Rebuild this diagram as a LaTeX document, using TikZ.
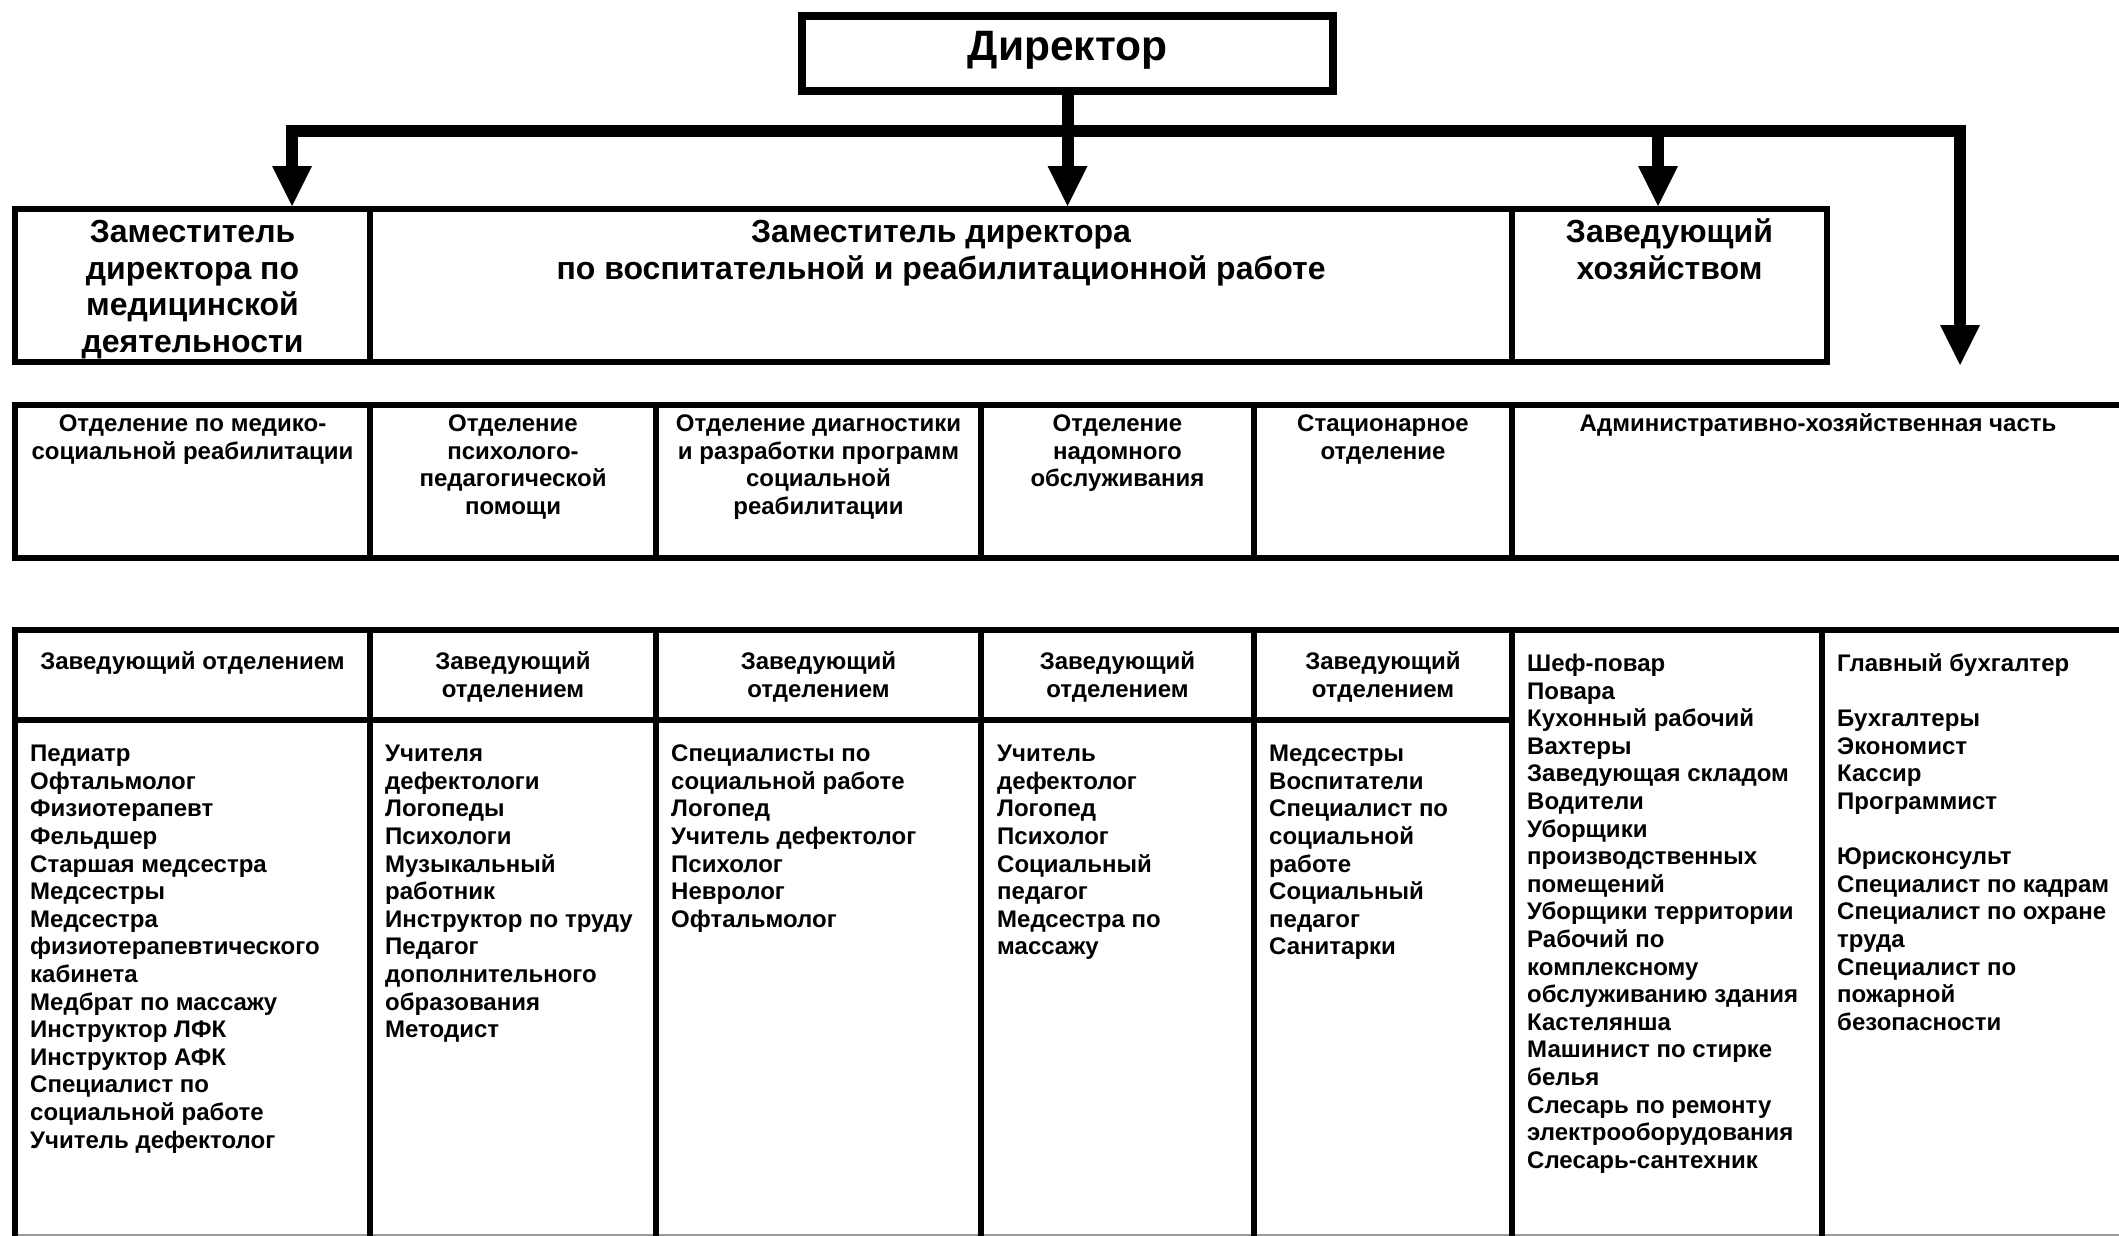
\documentclass[tikz,border=0pt]{standalone}
\usepackage{fontspec}
\setmainfont{Liberation Sans}
\usetikzlibrary{arrows.meta}
\newcommand\tstrut{\rule{0pt}{0.8em}}
\tikzset{
  frame/.style={draw, line width=6pt, inner sep=0pt, outer sep=3pt},
  bigtext/.style={font=\fontsize{32pt}{36.8pt}\selectfont\bfseries, inner sep=0pt, align=center, anchor=north},
  ctext/.style={font=\fontsize{24pt}{27.6pt}\selectfont\bfseries, inner sep=0pt, align=center, anchor=north},
  ltext/.style={font=\fontsize{24pt}{27.6pt}\selectfont\bfseries, inner sep=0pt, align=left, anchor=north west},
  tip/.tip={Triangle[length=40pt,width=40pt,line width=0pt]},
  conn/.style={line width=12pt, line join=miter, -tip},
  busline/.style={line width=12pt, line join=miter, tip-tip},
}
\begin{document}
\begin{tikzpicture}[x=1pt,y=-1pt]
\useasboundingbox (0,0) rectangle (2119,1236);

% faint bottom edge
\draw[black!40, line width=2.5pt] (12,1235) -- (2119,1235);

% director
\node[draw, line width=8pt, inner sep=0pt, outer sep=4pt, minimum width=531pt, minimum height=75pt,
      text height=31pt, text depth=17pt,
      font=\fontsize{42.5pt}{50pt}\selectfont\bfseries] (dir) at (1067.5,53.5) {Директор};

% row 1: deputies
\node[frame, minimum width=355pt, minimum height=153pt] (d1) at (192.5,285.5) {};
\node[frame, minimum width=1142pt, minimum height=153pt] (d2) at (941,285.5) {};
\node[frame, minimum width=315pt, minimum height=153pt] (d3) at (1669.5,285.5) {};

\node[bigtext] (td1) at (192.5,216.4) {\tstrut Заместитель\\директора по\\медицинской\\деятельности};
\node[bigtext] (td2) at (941,216.4) {\tstrut Заместитель директора\\по воспитательной и реабилитационной работе};
\node[bigtext] (td3) at (1669.5,216.4) {\tstrut Заведующий\\хозяйством};

% row 2: departments
\node[frame, minimum width=355pt, minimum height=153pt] (o1) at (192.5,481.5) {};
\node[frame, minimum width=286pt, minimum height=153pt] (o2) at (513,481.5) {};
\node[frame, minimum width=325pt, minimum height=153pt] (o3) at (818.5,481.5) {};
\node[frame, minimum width=273pt, minimum height=153pt] (o4) at (1117.5,481.5) {};
\node[frame, minimum width=258pt, minimum height=153pt] (o5) at (1383,481.5) {};
\node[frame, minimum width=618pt, minimum height=153pt] (o6) at (1821,481.5) {};

\node[ctext] (to1) at (192.5,412) {\tstrut Отделение по медико-\\социальной реабилитации};
\node[ctext] (to2) at (513,412) {\tstrut Отделение\\психолого-\\педагогической\\помощи};
\node[ctext] (to3) at (818.5,412) {\tstrut Отделение диагностики\\и разработки программ\\социальной\\реабилитации};
\node[ctext] (to4) at (1117.5,412) {\tstrut Отделение\\надомного\\обслуживания};
\node[ctext] (to5) at (1383,412) {\tstrut Стационарное\\отделение};
\node[ctext] (to6) at (1818,412) {\tstrut Административно-хозяйственная часть};

% row 3: headers
\node[frame, minimum width=355pt, minimum height=90pt] (h1) at (192.5,675) {};
\node[frame, minimum width=286pt, minimum height=90pt] (h2) at (513,675) {};
\node[frame, minimum width=325pt, minimum height=90pt] (h3) at (818.5,675) {};
\node[frame, minimum width=273pt, minimum height=90pt] (h4) at (1117.5,675) {};
\node[frame, minimum width=258pt, minimum height=90pt] (h5) at (1383,675) {};

\node[ctext] (th1) at (192.5,650.2) {\tstrut Заведующий отделением};
\node[ctext] (th2) at (513,650.2) {\tstrut Заведующий\\отделением};
\node[ctext] (th3) at (818.5,650.2) {\tstrut Заведующий\\отделением};
\node[ctext] (th4) at (1117.5,650.2) {\tstrut Заведующий\\отделением};
\node[ctext] (th5) at (1383,650.2) {\tstrut Заведующий\\отделением};

% row 3: bodies
\node[frame, minimum width=355pt, minimum height=522pt] (c1) at (192.5,981) {};
\node[frame, minimum width=286pt, minimum height=522pt] (c2) at (513,981) {};
\node[frame, minimum width=325pt, minimum height=522pt] (c3) at (818.5,981) {};
\node[frame, minimum width=273pt, minimum height=522pt] (c4) at (1117.5,981) {};
\node[frame, minimum width=258pt, minimum height=522pt] (c5) at (1383,981) {};
\node[frame, minimum width=310pt, minimum height=612pt] (c6) at (1667,936) {};
\node[frame, minimum width=308pt, minimum height=612pt] (c7) at (1976,936) {};

\node[ltext] (tc1) at (30,742.3) {\tstrut Педиатр\\Офтальмолог\\Физиотерапевт\\Фельдшер\\Старшая медсестра\\Медсестры\\Медсестра\\физиотерапевтического\\кабинета\\Медбрат по массажу\\Инструктор ЛФК\\Инструктор АФК\\Специалист по\\социальной работе\\Учитель дефектолог};
\node[ltext] (tc2) at (385,742.3) {\tstrut Учителя\\дефектологи\\Логопеды\\Психологи\\Музыкальный\\работник\\Инструктор по труду\\Педагог\\дополнительного\\образования\\Методист};
\node[ltext] (tc3) at (671,742.3) {\tstrut Специалисты по\\социальной работе\\Логопед\\Учитель дефектолог\\Психолог\\Невролог\\Офтальмолог};
\node[ltext] (tc4) at (997,742.3) {\tstrut Учитель\\дефектолог\\Логопед\\Психолог\\Социальный\\педагог\\Медсестра по\\массажу};
\node[ltext] (tc5) at (1269,742.3) {\tstrut Медсестры\\Воспитатели\\Специалист по\\социальной\\работе\\Социальный\\педагог\\Санитарки};
\node[ltext] (tc6) at (1527,652) {\tstrut Шеф-повар\\Повара\\Кухонный рабочий\\Вахтеры\\Заведующая складом\\Водители\\Уборщики\\производственных\\помещений\\Уборщики территории\\Рабочий по\\комплексному\\обслуживанию здания\\Кастелянша\\Машинист по стирке\\белья\\Слесарь по ремонту\\электрооборудования\\Слесарь-сантехник};
\node[ltext] (tc7) at (1837,652) {\tstrut Главный бухгалтер\\[27.6pt]Бухгалтеры\\Экономист\\Кассир\\Программист\\[27.6pt]Юрисконсульт\\Специалист по кадрам\\Специалист по охране\\труда\\Специалист по\\пожарной\\безопасности};

% connectors
\coordinate (busL) at (292,131);
\coordinate (busM) at (1658,131);
\coordinate (busR) at (1960,131);
\coordinate (endR) at (1960,365);
\draw[busline] (busL |- d1.north) -- (busL) -- (busR) -- (endR);
\draw[conn] (dir.south) -- (dir.south |- d2.north);
\draw[conn] (busM) -- (busM |- d3.north);
\end{tikzpicture}
\end{document}
